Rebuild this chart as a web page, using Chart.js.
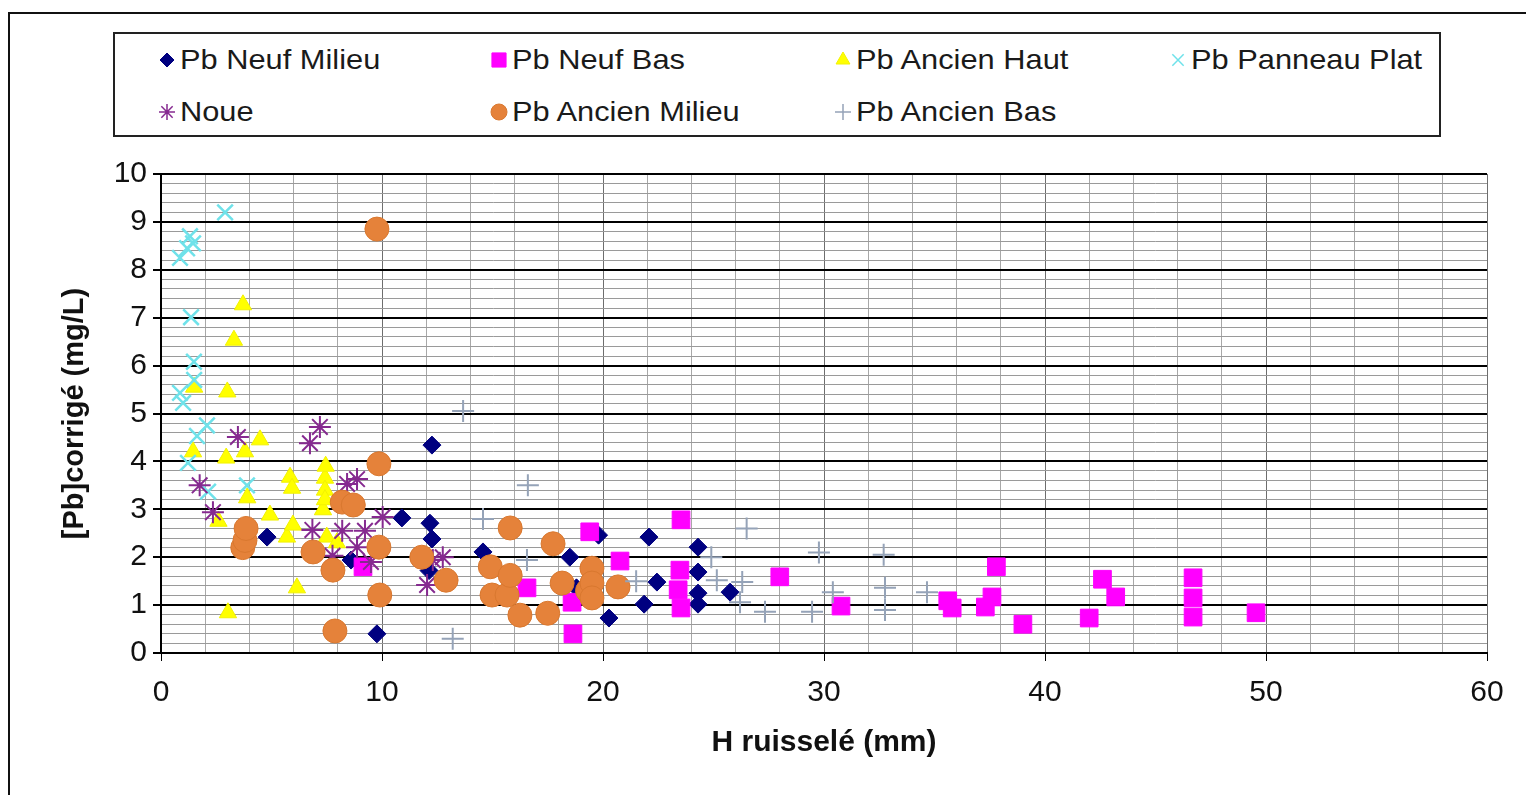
<!DOCTYPE html>
<html lang="fr">
<head>
<meta charset="utf-8">
<title>[Pb] corrigé en fonction de H ruisselé</title>
<script src="https://cdn.jsdelivr.net/npm/chart.js@4.4.1/dist/chart.umd.min.js"></script>
<style>
  html, body { margin: 0; padding: 0; background: #fff; }
  #page { position: relative; width: 1526px; height: 795px; overflow: hidden;
          font-family: "Liberation Sans", Arial, sans-serif; }
  #cadre { position: absolute; left: 8px; top: 12px; width: 1600px; height: 900px;
           border-top: 2px solid #111; border-left: 2px solid #111; }
  #zone { position: absolute; left: 0; top: 0; width: 1526px; height: 795px; }
  #legende { position: absolute; left: 113px; top: 32px; width: 1328px; height: 105px;
             box-sizing: border-box; border: 2px solid #222; background: #fff; }
  .item { position: absolute; height: 34px; display: flex; align-items: center;
          font-size: 28px; color: #1a1a1a; white-space: nowrap; }
  .item canvas { width: 22px; height: 22px; margin-right: 2px; }
  .item span { display: inline-block; transform: scaleX(1.1); transform-origin: left center; }
</style>
</head>
<body>
<div id="page">
  <div id="cadre"></div>
  <div id="zone"><canvas id="graphique"></canvas></div>
  <div id="legende"></div>
</div>
<script>
// noms des séries, dans l'ordre de la légende
const seriesNoms = ['Pb Neuf Milieu', 'Pb Neuf Bas', 'Pb Ancien Haut', 'Pb Panneau Plat',
                    'Noue', 'Pb Ancien Milieu', 'Pb Ancien Bas'];

// [H ruisselé (mm), [Pb] corrigé (mg/L)]
const pbNeufMilieu = [[4.8,2.42],[8.6,1.94],[9.77,0.4],[10.9,2.82],[12.17,2.71],[12.26,2.38],[12.26,4.34],
  [12.13,1.72],[14.57,2.11],[18.5,2.0],[18.8,1.36],[19.8,2.46],[20.27,0.73],[21.86,1.02],[22.08,2.42],
  [22.44,1.48],[24.3,2.21],[24.3,1.69],[24.3,1.25],[24.3,1.02],[25.75,1.27]];
const pbNeufBas = [[9.14,1.8],[16.56,1.36],[18.6,1.06],[18.64,0.4],[19.4,2.53],[20.77,1.92],[23.53,2.78],
  [23.48,1.73],[23.4,1.32],[23.53,0.94],[28.0,1.59],[30.77,0.98],[35.6,1.09],[35.8,0.94],[37.3,0.96],
  [37.6,1.17],[37.8,1.8],[39.0,0.6],[42.0,0.73],[42.6,1.54],[43.2,1.17],[46.7,1.57],[46.7,1.15],
  [46.7,0.75],[49.55,0.84]];
const pbAncienHaut = [[1.45,4.2],[1.5,5.55],[2.6,2.75],[2.95,4.07],[3.0,5.45],[3.03,0.84],[3.3,6.53],
  [3.71,7.27],[3.8,4.2],[3.9,3.24],[4.48,4.45],[4.93,2.88],[5.7,2.42],[5.84,3.67],[5.93,3.44],
  [5.97,2.67],[6.15,1.36],[7.33,2.99],[7.42,3.65],[7.42,3.4],[7.45,3.9],[7.42,3.2],[7.5,2.42],[7.96,2.3]];
const pbPanneauPlat = [[0.86,8.25],[1.18,8.45],[1.45,8.55],[1.31,8.7],[2.9,9.2],[1.36,7.01],[1.49,6.08],
  [1.5,5.7],[0.86,5.43],[1.0,5.22],[2.08,4.75],[1.63,4.53],[1.22,3.97],[2.13,3.37],[3.89,3.5]];
const noue = [[1.75,3.5],[2.35,2.94],[3.48,4.51],[6.74,4.38],[7.19,4.72],[6.85,2.57],[7.76,2.03],
  [8.2,2.55],[8.42,3.53],[8.87,3.63],[8.87,2.21],[9.23,2.55],[9.5,1.9],[10.03,2.84],[12.04,1.42],
  [12.3,1.94],[12.75,2.0]];
const pbAncienMilieu = [[3.7,2.2],[3.8,2.35],[3.85,2.6],[6.88,2.11],[7.78,1.73],[7.87,0.46],[8.2,3.15],
  [8.7,3.09],[9.77,8.85],[9.86,3.95],[9.86,2.21],[9.9,1.21],[11.8,2.0],[12.9,1.52],[14.9,1.8],
  [14.98,1.21],[15.66,1.21],[15.8,2.61],[15.8,1.62],[16.24,0.79],[17.5,0.83],[17.74,2.28],
  [18.15,1.46],[19.3,1.3],[19.5,1.77],[19.5,1.46],[19.5,1.15],[20.68,1.38]];
const pbAncienBas = [[13.2,0.3],[13.67,5.05],[14.57,2.8],[16.6,3.5],[16.56,1.94],[21.5,1.5],[24.9,2.0],
  [25.15,1.52],[26.3,1.48],[26.2,1.06],[26.5,2.6],[27.33,0.86],[29.46,0.86],[29.77,2.1],[30.4,1.27],
  [32.7,2.05],[32.76,1.36],[32.76,0.9],[34.66,1.27]];

const seriesDonnees = [pbNeufMilieu, pbNeufBas, pbAncienHaut, pbPanneauPlat, noue, pbAncienMilieu, pbAncienBas];

// marqueurs façon Excel (rayon dans le graphe, rayon dans la légende)
const marqueurs = [
  { style: 'rectRot',  rayon: 9,    leg: 7,   fond: '#000080', trait: '#000080', epaisseur: 1 },
  { style: 'rect',     rayon: 12.5, leg: 10,  fond: '#ff00ff', trait: '#ff00ff', epaisseur: 1 },
  { style: 'triangle', rayon: 10,   leg: 8,   fond: '#ffff00', trait: '#f2f200', epaisseur: 1 },
  { style: 'crossRot', rayon: 11,   leg: 8,   fond: '#6fe2ea', trait: '#6fe2ea', epaisseur: 2.5 },
  { style: 'star',     rayon: 11,   leg: 8,   fond: '#862a90', trait: '#862a90', epaisseur: 2 },
  { style: 'circle',   rayon: 12,   leg: 8,   fond: '#e5823a', trait: '#d9782f', epaisseur: 1 },
  { style: 'cross',    rayon: 11,   leg: 8,   fond: '#95a3b8', trait: '#95a3b8', epaisseur: 2 }
];

const estEntier = v => Math.abs(v - Math.round(v)) < 1e-6;

Chart.defaults.font.family = '"Liberation Sans", Arial, sans-serif';
Chart.defaults.color = '#111';

const datasets = seriesNoms.map((nom, i) => ({
  label: nom,
  data: seriesDonnees[i].map(p => ({ x: p[0], y: p[1] })),
  pointStyle: marqueurs[i].style,
  pointRadius: marqueurs[i].rayon,
  pointBackgroundColor: marqueurs[i].fond,
  pointBorderColor: marqueurs[i].trait,
  pointBorderWidth: marqueurs[i].epaisseur,
  order: seriesNoms.length - i   // les séries suivantes passent par dessus, comme dans Excel
}));

new Chart(document.getElementById('graphique'), {
  type: 'scatter',
  data: { datasets: datasets },
  options: {
    responsive: true,
    maintainAspectRatio: false,
    animation: false,
    layout: { padding: { left: 8, top: 174, right: 39, bottom: 8 } },
    plugins: { legend: { display: false }, tooltip: { enabled: false } },
    scales: {
      x: {
        type: 'linear', min: 0, max: 60,
        ticks: { stepSize: 2, autoSkip: false, maxRotation: 0, padding: 14, font: { size: 30 },
                 callback: v => (v % 10 === 0 ? v : '') },
        grid: {
          color: c => (c.tick && c.tick.value % 10 === 0 ? '#6e6e6e' : '#a8a8a8'),
          lineWidth: 1,
          tickColor: c => (c.tick && c.tick.value % 10 === 0 ? '#000' : 'rgba(0,0,0,0)'),
          tickLength: 8
        },
        border: { color: '#000', width: 2 },
        title: { display: true, text: 'H ruisselé (mm)', color: '#111',
                 font: { size: 30, weight: 'bold' }, padding: { top: 0, bottom: 26 } },
        afterFit: s => { s.height = 134; }
      },
      y: {
        type: 'linear', min: 0, max: 10,
        ticks: { stepSize: 0.2, autoSkip: false, padding: 6, font: { size: 30 },
                 callback: v => (estEntier(v) ? Math.round(v) : '') },
        grid: {
          color: c => (c.tick && estEntier(c.tick.value) ? '#000' : '#9a9a9a'),
          lineWidth: c => (c.tick && estEntier(c.tick.value) ? 2 : 1),
          tickColor: c => (c.tick && estEntier(c.tick.value) ? '#000' : 'rgba(0,0,0,0)'),
          tickLength: 8
        },
        border: { color: '#000', width: 2 },
        title: { display: true, text: '[Pb]corrigé (mg/L)', color: '#111',
                 font: { size: 29, weight: 'bold' }, padding: { top: 50, bottom: 0 } },
        afterFit: s => { s.width = 153; }
      }
    }
  }
});

// légende encadrée, 4 colonnes sur 2 lignes
const colonnes = [41, 373, 717, 1052];
const lignes = [9, 61];
const legende = document.getElementById('legende');
seriesNoms.forEach((nom, i) => {
  const item = document.createElement('div');
  item.className = 'item';
  item.style.left = colonnes[i % 4] + 'px';
  item.style.top = lignes[Math.floor(i / 4)] + 'px';
  const c = document.createElement('canvas');
  c.width = 22; c.height = 22;
  const ctx = c.getContext('2d');
  const m = marqueurs[i];
  ctx.fillStyle = m.fond;
  ctx.strokeStyle = m.trait;
  ctx.lineWidth = ['cross', 'star', 'crossRot'].includes(m.style) ? 1.5 : 1;
  Chart.helpers.drawPoint(ctx, { pointStyle: m.style, radius: m.leg, borderWidth: ctx.lineWidth, rotation: 0 }, 11, 11);
  const t = document.createElement('span');
  t.textContent = nom;
  item.appendChild(c);
  item.appendChild(t);
  legende.appendChild(item);
});
</script>
</body>
</html>
